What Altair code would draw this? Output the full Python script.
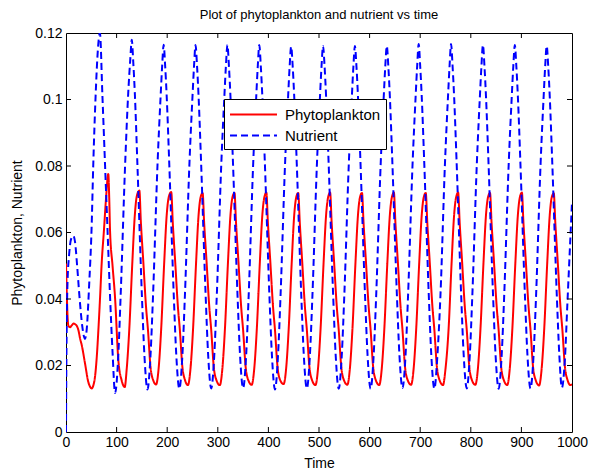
import altair as alt
import pandas as pd

# ---- values ----
nutrient_time = [
    0, 0.5, 1.5, 3, 6, 10, 14.5, 18, 22, 27, 32, 37.5, 41, 46, 50.5, 54, 58.5, 63, 67, 72, 77, 82, 87, 92, 97,
    103, 108, 117, 123, 127, 130, 133, 136, 141, 150, 155, 161,
    167, 172, 181, 187, 190, 193, 196, 199, 204, 213, 218, 224,
    230, 235, 244, 250, 253, 256, 259, 262, 267, 276, 281, 287,
    293, 298, 307, 313, 316, 319, 322, 325, 330, 339, 344, 350,
    356, 361, 370, 376, 379, 382, 385, 388, 393, 402, 407, 413,
    419, 424, 433, 439, 442, 445, 448, 451, 456, 465, 470, 476,
    482, 487, 496, 502, 505, 508, 511, 514, 519, 528, 533, 539,
    545, 550, 559, 565, 568, 571, 574, 577, 582, 591, 596, 602,
    608, 613, 622, 628, 631, 634, 637, 640, 645, 654, 659, 665,
    671, 676, 685, 691, 694, 697, 700, 703, 708, 717, 722, 728,
    734, 740, 749, 755, 758, 761, 764, 767, 772, 781, 786, 792,
    798, 803, 812, 818, 821, 824, 827, 830, 835, 844, 849, 855,
    861, 866, 875, 881, 884, 887, 890, 893, 898, 907, 912, 918,
    924, 929, 938, 944, 947, 950, 953, 956, 961, 970, 975, 980,
    986, 991, 1000,
]
nutrient_value = [
    0.0, 0.015, 0.033, 0.045, 0.053, 0.058, 0.059, 0.057, 0.050, 0.040, 0.032, 0.028, 0.031, 0.045, 0.061, 0.081, 0.101, 0.115, 0.120, 0.101, 0.081, 0.061, 0.041, 0.024, 0.0117,
    0.022, 0.041, 0.081, 0.102, 0.112, 0.1180, 0.111, 0.102, 0.081, 0.041, 0.023, 0.0128,
    0.023, 0.041, 0.081, 0.101, 0.110, 0.1165, 0.110, 0.101, 0.081, 0.041, 0.023, 0.0130,
    0.023, 0.041, 0.081, 0.101, 0.110, 0.1164, 0.110, 0.101, 0.081, 0.041, 0.023, 0.0131,
    0.023, 0.041, 0.081, 0.101, 0.110, 0.1164, 0.110, 0.101, 0.081, 0.041, 0.023, 0.0132,
    0.023, 0.041, 0.081, 0.101, 0.110, 0.1164, 0.110, 0.101, 0.081, 0.041, 0.023, 0.0128,
    0.023, 0.041, 0.081, 0.101, 0.110, 0.1159, 0.110, 0.101, 0.081, 0.041, 0.023, 0.0131,
    0.023, 0.041, 0.081, 0.101, 0.110, 0.1161, 0.110, 0.101, 0.081, 0.041, 0.023, 0.0130,
    0.023, 0.041, 0.081, 0.101, 0.110, 0.1161, 0.110, 0.101, 0.081, 0.041, 0.023, 0.0130,
    0.023, 0.041, 0.081, 0.101, 0.110, 0.1161, 0.110, 0.101, 0.081, 0.041, 0.023, 0.0132,
    0.023, 0.041, 0.081, 0.101, 0.110, 0.1167, 0.110, 0.101, 0.081, 0.041, 0.023, 0.0130,
    0.023, 0.041, 0.081, 0.101, 0.110, 0.1167, 0.110, 0.101, 0.081, 0.041, 0.023, 0.0131,
    0.023, 0.041, 0.081, 0.101, 0.110, 0.1164, 0.110, 0.101, 0.081, 0.041, 0.023, 0.0130,
    0.023, 0.041, 0.081, 0.101, 0.110, 0.1164, 0.110, 0.101, 0.081, 0.041, 0.023, 0.0131,
    0.023, 0.041, 0.081, 0.101, 0.110, 0.1161, 0.110, 0.101, 0.081, 0.041, 0.023, 0.0133,
    0.022, 0.039, 0.069,
]

phyto_time = [
    0, 1.5, 3, 4.6, 8, 11, 15, 18, 21, 24.4, 28, 31, 37.5, 44, 48, 50.7, 54, 57.3, 61, 64, 67.5, 70.5, 75, 79, 83.6, 85.5, 87, 92, 96.8, 103.4, 110, 116,
    120, 125, 131, 136, 140, 145, 148, 153, 158, 162, 167, 172, 178,
    183, 188, 194, 199, 203, 208, 211, 216, 221, 225, 230, 235, 241,
    246, 251, 257, 262, 266, 270, 273, 278, 283, 287, 292, 297, 304,
    309, 314, 320, 325, 329, 333, 336, 341, 346, 350, 355, 360, 367,
    372, 377, 383, 388, 392, 396, 399, 404, 409, 413, 418, 423, 430,
    435, 440, 446, 451, 455, 459, 462, 467, 472, 476, 481, 486, 493,
    498, 503, 509, 514, 518, 522, 525, 530, 535, 539, 544, 549, 556,
    561, 566, 572, 577, 581, 585, 588, 593, 598, 602, 607, 612, 619,
    624, 629, 635, 640, 644, 648, 651, 656, 661, 665, 670, 675, 682,
    687, 692, 698, 703, 707, 711, 714, 719, 724, 728, 733, 738, 745,
    750, 756, 762, 767, 771, 775, 778, 783, 788, 792, 797, 802, 809,
    814, 819, 825, 830, 834, 838, 841, 846, 851, 855, 860, 865, 872,
    877, 882, 888, 893, 897, 901, 904, 909, 914, 918, 923, 928, 935,
    940, 945, 951, 956, 960, 964, 967, 972, 977, 981, 986, 991, 997,
    1000,
]
phyto_value = [
    0.0507, 0.042, 0.035, 0.032, 0.0315, 0.032, 0.0326, 0.0324, 0.032, 0.0307, 0.028, 0.0262, 0.0207, 0.0151, 0.0135, 0.0131, 0.0140, 0.0166, 0.023, 0.0307, 0.041, 0.0507, 0.0607, 0.070, 0.0776, 0.070, 0.0607, 0.050, 0.0407, 0.0217, 0.0155, 0.0135,
    0.019, 0.0307, 0.0507, 0.0652, 0.0710, 0.0726, 0.063, 0.0507, 0.038, 0.0307, 0.0196, 0.0157, 0.0143,
    0.019, 0.0307, 0.0507, 0.0652, 0.0706, 0.0722, 0.063, 0.0507, 0.038, 0.0307, 0.0196, 0.0157, 0.0141,
    0.019, 0.0307, 0.0507, 0.0652, 0.0706, 0.0719, 0.063, 0.0507, 0.038, 0.0307, 0.0196, 0.0157, 0.0141,
    0.019, 0.0307, 0.0507, 0.0652, 0.0706, 0.0719, 0.063, 0.0507, 0.038, 0.0307, 0.0196, 0.0157, 0.0142,
    0.019, 0.0307, 0.0507, 0.0652, 0.0706, 0.0720, 0.063, 0.0507, 0.038, 0.0307, 0.0196, 0.0157, 0.0144,
    0.019, 0.0307, 0.0507, 0.0652, 0.0706, 0.0719, 0.063, 0.0507, 0.038, 0.0307, 0.0196, 0.0157, 0.0141,
    0.019, 0.0307, 0.0507, 0.0652, 0.0706, 0.0720, 0.063, 0.0507, 0.038, 0.0307, 0.0196, 0.0157, 0.0142,
    0.019, 0.0307, 0.0507, 0.0652, 0.0706, 0.0719, 0.063, 0.0507, 0.038, 0.0307, 0.0196, 0.0157, 0.0141,
    0.019, 0.0307, 0.0507, 0.0652, 0.0706, 0.0720, 0.063, 0.0507, 0.038, 0.0307, 0.0196, 0.0157, 0.0142,
    0.019, 0.0307, 0.0507, 0.0652, 0.0706, 0.0719, 0.063, 0.0507, 0.038, 0.0307, 0.0196, 0.0157, 0.0141,
    0.019, 0.0307, 0.0507, 0.0652, 0.0706, 0.0720, 0.063, 0.0507, 0.038, 0.0307, 0.0196, 0.0157, 0.0142,
    0.019, 0.0307, 0.0507, 0.0652, 0.0706, 0.0719, 0.063, 0.0507, 0.038, 0.0307, 0.0196, 0.0157, 0.0141,
    0.019, 0.0307, 0.0507, 0.0652, 0.0706, 0.0720, 0.063, 0.0507, 0.038, 0.0307, 0.0196, 0.0157, 0.0140,
    0.019, 0.0307, 0.0507, 0.0652, 0.0706, 0.0718, 0.063, 0.0507, 0.038, 0.0307, 0.0196, 0.0157, 0.0141,
    0.0144,
]

series_names = ["Phytoplankton", "Nutrient"]
series_colors = ["#ff0000", "#0000ff"]
x_ticks = [0, 100, 200, 300, 400, 500, 600, 700, 800, 900, 1000]
y_ticks = [0, 0.02, 0.04, 0.06, 0.08, 0.1, 0.12]

W, H = 506, 399
FONT = "Liberation Sans"

df = pd.concat([
    pd.DataFrame({"Time": phyto_time, "Value": phyto_value, "Series": "Phytoplankton", "k": 0}),
    pd.DataFrame({"Time": nutrient_time, "Value": nutrient_value, "Series": "Nutrient", "k": 1}),
], ignore_index=True)

xs = alt.Scale(domain=[0, 1000], nice=False, zero=False)
ys = alt.Scale(domain=[0, 0.12], nice=False)

x_axis = alt.Axis(values=x_ticks, title="Time", labelFlush=False, labelOverlap=False,
                  labelExpr="format(datum.value, 'd')", labelPadding=3, titlePadding=7)
y_axis = alt.Axis(values=y_ticks, title="Phytoplankton, Nutrient",
                  labelExpr="format(datum.value, '.2~f')",
                  labelFlush=False, labelOverlap=False, labelPadding=4, titlePadding=10)

legend = alt.Legend(
    title=None, orient="none", legendX=158, legendY=66,
    symbolType="M-2.5,0H2.5", symbolSize=353, symbolStrokeWidth=2, symbolOffset=14,
    labelFont=FONT, labelFontSize=15, labelColor="black", labelOffset=21,
    padding=5, rowPadding=2, strokeColor="black", fillColor="white",
    cornerRadius=0,
)

lines = alt.Chart(df).mark_line(strokeWidth=2, interpolate="monotone", clip=True).encode(
    x=alt.X("Time:Q", scale=xs, axis=x_axis),
    y=alt.Y("Value:Q", scale=ys, axis=y_axis),
    color=alt.Color("Series:N", scale=alt.Scale(domain=series_names, range=series_colors), legend=legend),
    strokeDash=alt.StrokeDash("Series:N", scale=alt.Scale(domain=series_names, range=[[1, 0], [7, 4]]),
                              legend=legend),
    detail="k:N",
)

xt = pd.DataFrame({"Time": x_ticks[1:-1]})
yt = pd.DataFrame({"Value": y_ticks[1:-1]})

tick_bottom = alt.Chart(xt).mark_rule(color="black", strokeWidth=1).encode(
    x=alt.X("Time:Q", scale=xs, axis=x_axis), y=alt.value(H), y2=alt.value(H - 5))
tick_top = alt.Chart(xt).mark_rule(color="black", strokeWidth=1).encode(
    x=alt.X("Time:Q", scale=xs, axis=x_axis), y=alt.value(0), y2=alt.value(5))
tick_left = alt.Chart(yt).mark_rule(color="black", strokeWidth=1).encode(
    y=alt.Y("Value:Q", scale=ys, axis=y_axis), x=alt.value(0), x2=alt.value(5))
tick_right = alt.Chart(yt).mark_rule(color="black", strokeWidth=1).encode(
    y=alt.Y("Value:Q", scale=ys, axis=y_axis), x=alt.value(W), x2=alt.value(W - 5))

chart = alt.layer(lines, tick_bottom, tick_top, tick_left, tick_right).properties(
    width=W, height=H,
    title=alt.Title("Plot of phytoplankton and nutrient vs time", font=FONT, fontSize=13,
                    fontWeight="normal", color="black", offset=4),
    autosize=alt.AutoSizeParams(type="none"),
    padding={"left": 66, "top": 33, "right": 18, "bottom": 42},
    background="white",
).configure_view(stroke="black", strokeWidth=1).configure_axis(
    labelFont=FONT, labelFontSize=14, labelColor="black",
    titleFont=FONT, titleFontSize=14, titleColor="black", titleFontWeight="normal",
    domain=False, ticks=False, tickSize=0, grid=False,
)

chart.save("out.html", embed_options={"renderer": "svg", "actions": False})
